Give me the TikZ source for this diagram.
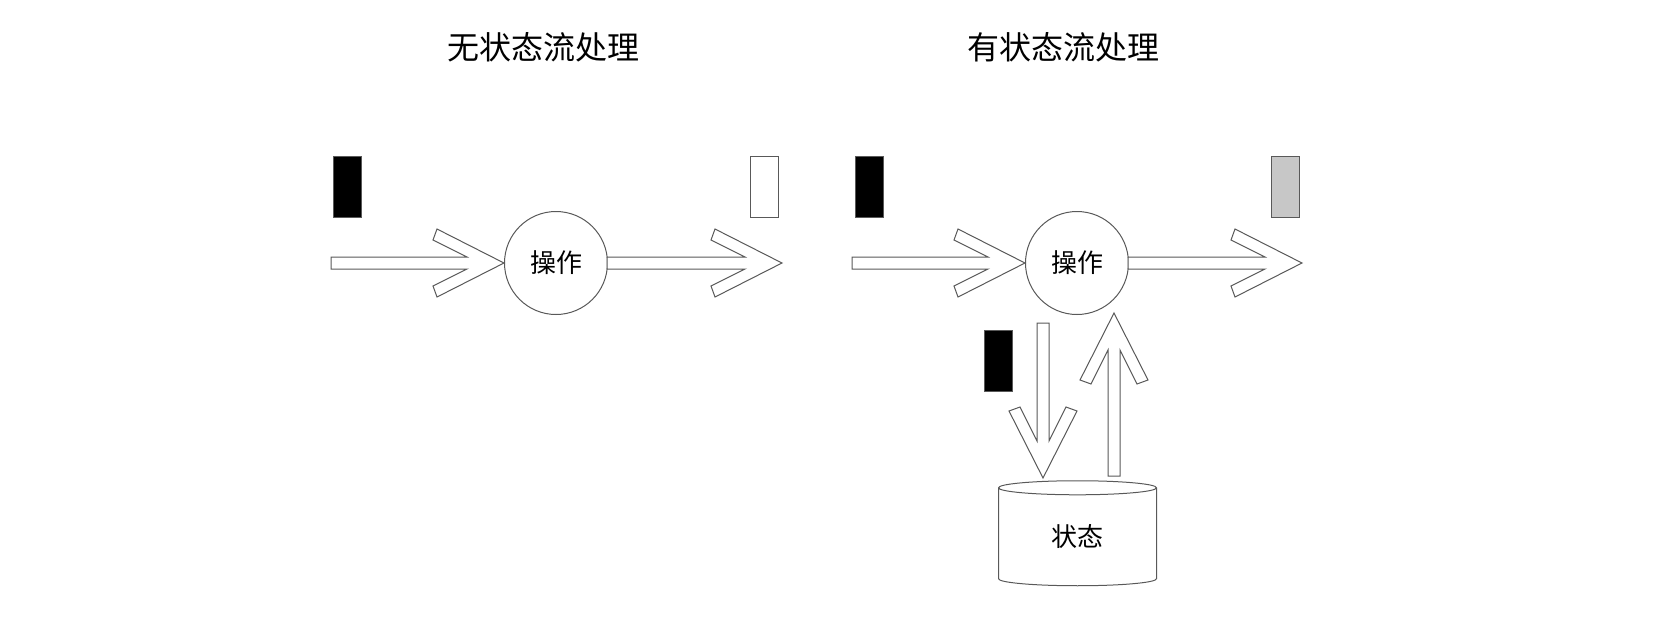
\documentclass[tikz,border=0pt]{standalone}
\usepackage{fontspec}
\newfontfamily\cjk{Noto Sans CJK SC}
\usetikzlibrary{shapes.geometric}

\tikzset{
  outline/.style={draw=black!65, line width=0.5pt},
  event/.style={outline, minimum width=14pt, minimum height=30.5pt, inner sep=0pt},
  operator/.style={outline, circle, minimum size=51.5pt, inner sep=0pt, font=\cjk\fontsize{13pt}{15pt}\selectfont},
  title/.style={font=\cjk\fontsize{16pt}{19pt}\selectfont},
  % block arrow, tip at the origin, pointing along +x, tail length #1
  fatarrow/.pic={
    \draw[outline, fill=white] (-#1,-6) -- (-37,-6) -- (-71,-23) -- (-67,-34) -- (0,0)
      -- (-67,34) -- (-71,23) -- (-37,6) -- (-#1,6) -- cycle;
  }
}

\begin{document}
\begin{tikzpicture}[x=0.5pt, y=-0.5pt]
        \useasboundingbox (0,0) rectangle (1672,628);

        % Titles
        \node[title] (titleA) at (543,47) {无状态流处理};
        \node[title] (titleB) at (1063,47) {有状态流处理};

        % Stateless processing
        \node[operator] (opA) at (556,263) {操作};
        \node[event, fill=black] (inA) at (347.5,186.5) {};
        \node[event, fill=white] (outA) at (764.5,186.5) {};
        \coordinate (tipA) at (782,263);
        \pic at (opA.west) {fatarrow=173};
        \pic at (tipA) {fatarrow=175};

        % Stateful processing
        \node[operator] (opB) at (1077,263) {操作};
        \node[event, fill=black] (inB) at (869,186.5) {};
        \node[event, fill=black!22] (outB) at (1285.5,186.5) {};
        \coordinate (tipB) at (1302,263);
        \pic at (opB.west) {fatarrow=173};
        \pic at (tipB) {fatarrow=174};

        % State store
        \node[outline, cylinder, shape border rotate=90, aspect=0.27,
              minimum width=79pt, minimum height=52.5pt, inner sep=0pt,
              font=\cjk\fontsize{13pt}{15pt}\selectfont] (state) at (1077.5,537) {状态};
        \node[event, fill=black] (toState) at (998,361) {};
        \coordinate (writeTip) at (1043,478);
        \coordinate (readTip) at (1114,313);
        \pic[rotate=-90] at (writeTip) {fatarrow=155};
        \pic[rotate=90] at (readTip) {fatarrow=163};
\end{tikzpicture}
\end{document}
